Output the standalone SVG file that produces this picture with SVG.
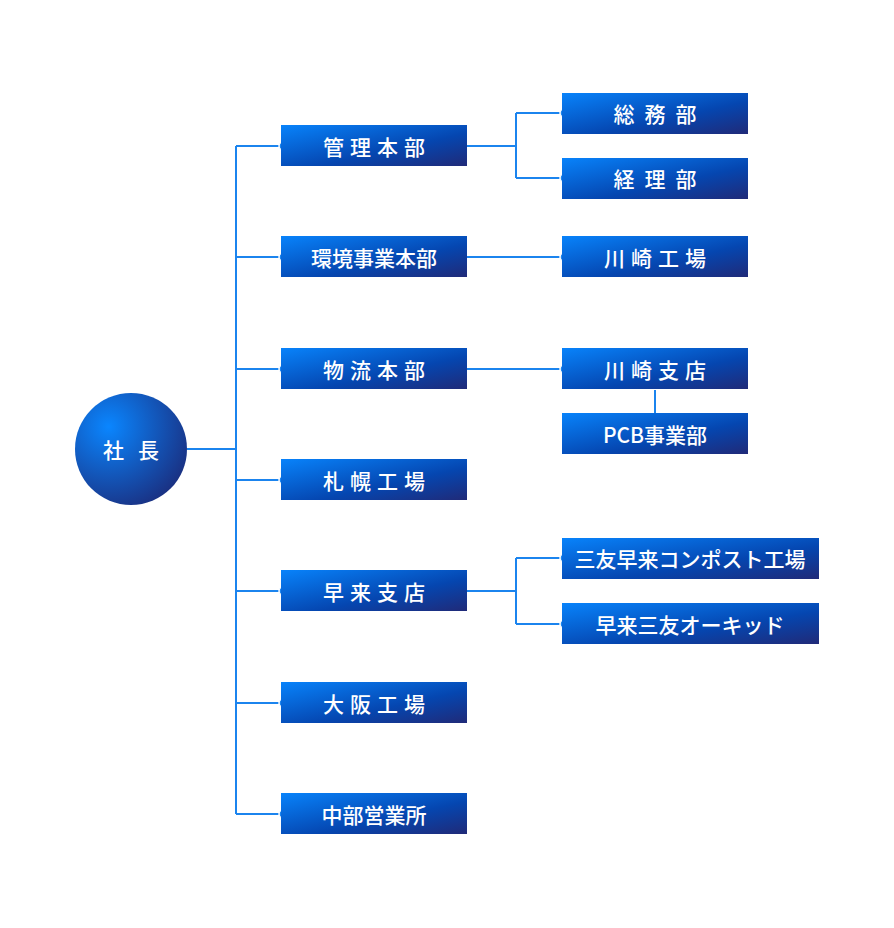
<svg xmlns="http://www.w3.org/2000/svg" width="894" height="928" viewBox="0 0 894 928">
<defs>
<linearGradient id="g" x1="0" y1="0" x2="1" y2="1"><stop offset="0" stop-color="#0883fb"/><stop offset="0.6" stop-color="#0546b0"/><stop offset="1" stop-color="#202a78"/></linearGradient>
<linearGradient id="gc" x1="0" y1="0" x2="1" y2="1"><stop offset="0" stop-color="#0a86ff"/><stop offset="0.6" stop-color="#064cb8"/><stop offset="1" stop-color="#1c2c7a"/></linearGradient>
<radialGradient id="gr" cx="0.3" cy="0.3" r="0.8"><stop offset="0" stop-color="#0a86ff"/><stop offset="1" stop-color="#1a2f80"/></radialGradient>
</defs>
<style>
.b{fill:url(#g)}
.t{fill:#fff;font-family:"Noto Sans CJK JP","Noto Sans",sans-serif;font-size:21px;font-weight:500;text-anchor:middle;dominant-baseline:central}
.l{stroke:#1b84ee;stroke-width:2;fill:none}
.d{fill:#1b84ee;stroke:#fff;stroke-width:1.5}
</style>
<g id="connectors">
<path class="l" d="M187 449H236M236 146V814M236 146H281M236 257H281M236 369H281M236 480H281M236 591H281M236 703H281M236 814H281"/>
<path class="l" d="M467 146H516M516 113V178M516 113H562M516 178H562M467 257H562M467 369H562M655 390V413M467 591H516M516 558V624M516 558H562M516 624H562"/>
<g>
<circle class="d" cx="283" cy="146" r="4"/><circle class="d" cx="283" cy="257" r="4"/><circle class="d" cx="283" cy="369" r="4"/><circle class="d" cx="283" cy="480" r="4"/><circle class="d" cx="283" cy="591" r="4"/><circle class="d" cx="283" cy="703" r="4"/><circle class="d" cx="283" cy="814" r="4"/>
<circle class="d" cx="564" cy="113" r="4"/><circle class="d" cx="564" cy="178" r="4"/><circle class="d" cx="564" cy="257" r="4"/><circle class="d" cx="564" cy="369" r="4"/><circle class="d" cx="564" cy="558" r="4"/><circle class="d" cx="564" cy="624" r="4"/>
</g>
</g>
<g id="president"><circle cx="131" cy="449" r="56" fill="url(#gr)"/><text class="t" x="131" y="449" letter-spacing="14" dx="7">社長</text></g>
<g id="n1"><rect class="b" x="281" y="125" width="186" height="41"/><text class="t" x="374" y="146" letter-spacing="6" dx="3">管理本部</text></g>
<g id="n2"><rect class="b" x="281" y="236" width="186" height="41"/><text class="t" x="374" y="257">環境事業本部</text></g>
<g id="n3"><rect class="b" x="281" y="348" width="186" height="41"/><text class="t" x="374" y="369" letter-spacing="6" dx="3">物流本部</text></g>
<g id="n4"><rect class="b" x="281" y="459" width="186" height="41"/><text class="t" x="374" y="480" letter-spacing="6" dx="3">札幌工場</text></g>
<g id="n5"><rect class="b" x="281" y="570" width="186" height="41"/><text class="t" x="374" y="591" letter-spacing="6" dx="3">早来支店</text></g>
<g id="n6"><rect class="b" x="281" y="682" width="186" height="41"/><text class="t" x="374" y="703" letter-spacing="6" dx="3">大阪工場</text></g>
<g id="n7"><rect class="b" x="281" y="793" width="186" height="41"/><text class="t" x="374" y="814">中部営業所</text></g>
<g id="r1"><rect class="b" x="562" y="93" width="186" height="41"/><text class="t" x="655" y="113" letter-spacing="10" dx="5">総務部</text></g>
<g id="r2"><rect class="b" x="562" y="158" width="186" height="41"/><text class="t" x="655" y="178" letter-spacing="10" dx="5">経理部</text></g>
<g id="r3"><rect class="b" x="562" y="236" width="186" height="41"/><text class="t" x="655" y="257" letter-spacing="6" dx="3">川崎工場</text></g>
<g id="r4"><rect class="b" x="562" y="348" width="186" height="41"/><text class="t" x="655" y="369" letter-spacing="6" dx="3">川崎支店</text></g>
<g id="r5"><rect class="b" x="562" y="413" width="186" height="41"/><text class="t" x="655" y="434">PCB事業部</text></g>
<g id="r6"><rect class="b" x="562" y="538" width="257" height="41"/><text class="t" x="690" y="558">三友早来コンポスト工場</text></g>
<g id="r7"><rect class="b" x="562" y="603" width="257" height="41"/><text class="t" x="690" y="624">早来三友オーキッド</text></g>
</svg>
